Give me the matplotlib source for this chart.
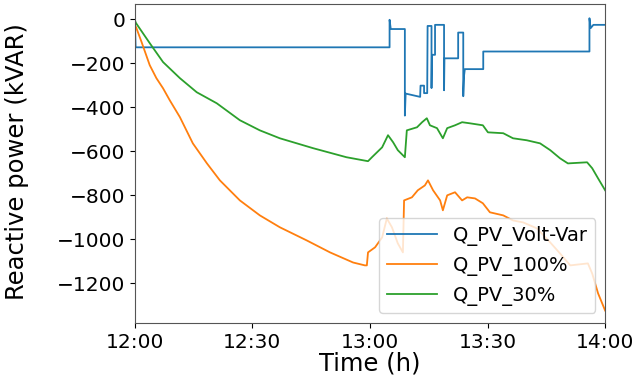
import matplotlib
matplotlib.use("Agg")
import matplotlib.pyplot as plt

# time in minutes after 12:00
t_vv = [0, 0.2, 65.0, 65.0, 65.3, 68.9, 68.9, 69.1, 72.8, 72.9, 73.8, 73.8, 74.6, 74.7,
        75.7, 75.7, 75.8, 76.6, 76.6, 78.9, 78.9, 79.0, 82.5, 82.5, 83.8, 83.8, 84.0,
        84.2, 88.9, 88.9, 116.0, 116.0, 116.3, 117.0, 120.0]
q_vv = [0, -128, -128, -3, -45, -45, -438, -338, -353, -302, -302, -336, -336, -31,
        -31, -313, -162, -162, -26, -26, -323, -178, -178, -61, -61, -350, -257,
        -227, -227, -147, -147, 4, -41, -26, -26]

t_100 = [0, 0.3, 1.7, 3.8, 5.5, 7.2, 8.9, 11.5, 14.8, 18.4, 21.7, 26.8, 31.9, 37.0,
         43.9, 49.8, 55.7, 58.7, 59.2, 59.5, 61.3, 63.1, 64.3, 65.6, 67.1, 68.4, 68.7,
         70.7, 72.2, 74.0, 74.8, 76.1, 77.9, 78.6, 79.7, 81.7, 83.5, 84.8, 86.8, 88.8,
         90.6, 94.0, 96.5, 99.1, 102.6, 106.0, 108.5, 111.1, 115.6, 116.7, 118.2, 120.0]
q_100 = [-30, -36, -103, -209, -268, -314, -368, -445, -564, -655, -732, -823, -891, -945,
         -1005, -1059, -1105, -1118, -1118, -1059, -1036, -991, -905, -945, -1018, -1059, -823,
         -809, -777, -755, -732, -777, -823, -868, -800, -786, -823, -809, -814, -836,
         -877, -891, -914, -923, -950, -1014, -1064, -1118, -1109, -1155, -1245, -1323]

t_30 = [0, 0.3, 3.8, 7.2, 11.5, 15.8, 20.9, 26.8, 31.9, 37.0, 45.5, 54.0, 59.5, 60.5,
        63.1, 64.6, 65.9, 67.1, 68.9, 69.4, 72.0, 73.3, 74.5, 75.3, 77.1, 78.6, 79.7,
        81.7, 83.5, 85.5, 88.8, 90.1, 94.0, 96.5, 100.0, 103.4, 106.0, 108.5, 110.5,
        115.4, 116.7, 118.2, 120.0]
q_30 = [-5, -18, -109, -195, -268, -332, -382, -459, -505, -541, -586, -627, -645, -627,
        -582, -527, -559, -595, -627, -505, -491, -468, -450, -482, -495, -541, -495,
        -482, -468, -473, -482, -514, -518, -541, -550, -564, -595, -632, -655,
        -650, -677, -723, -777]

xticks = [0, 30, 60, 90, 120]
xticklabels = ["12:00", "12:30", "13:00", "13:30", "14:00"]
yticks = [0, -200, -400, -600, -800, -1000, -1200]

fig = plt.figure(figsize=(6.39, 3.77), dpi=100)
ax = fig.add_axes([0.211, 0.143, 0.736, 0.846])
ax.plot(t_vv, q_vv, color="#1f77b4", lw=1.3, label="Q_PV_Volt-Var")
ax.plot(t_100, q_100, color="#ff7f0e", lw=1.3, label="Q_PV_100%")
ax.plot(t_30, q_30, color="#2ca02c", lw=1.3, label="Q_PV_30%")
ax.set_xlim(0, 120)
ax.set_ylim(-1380, 68)
ax.set_xticks(xticks)
ax.set_xticklabels(xticklabels)
ax.set_yticks(yticks)
ax.tick_params(labelsize=14.5)
ax.set_xlabel("Time (h)", fontsize=17.5, labelpad=0)
ax.set_ylabel("Reactive power (kVAR)", fontsize=17.5)
ax.yaxis.set_label_coords(-0.224, 0.506)
ax.legend(loc="lower right", fontsize=14, handlelength=2.6)
for s in ax.spines.values():
    s.set_color("#555555")
fig.savefig("out.png", dpi=100)
